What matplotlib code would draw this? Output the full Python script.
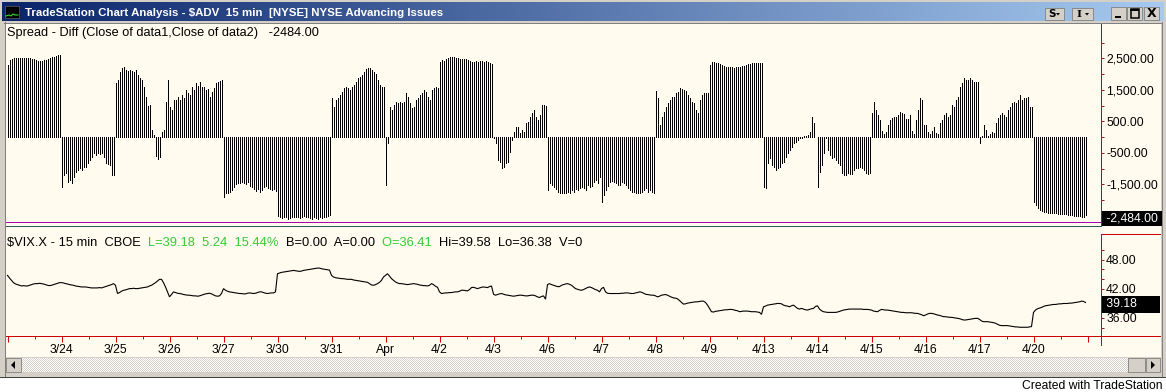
import numpy as np
import matplotlib
matplotlib.use("Agg")
import matplotlib.pyplot as plt
from matplotlib.patches import Rectangle, Polygon
from matplotlib.lines import Line2D
from matplotlib.colors import LinearSegmentedColormap, ListedColormap
from matplotlib.ticker import FixedLocator, FuncFormatter
from matplotlib.transforms import blended_transform_factory, ScaledTranslation

plt.rcParams['font.family'] = ['Liberation Sans', 'DejaVu Sans']

# ---------------- data ----------------
day_labels = ["", "3/24", "3/25", "3/26", "3/27", "3/30", "3/31", "Apr", "4/2", "4/3",
              "4/6", "4/7", "4/8", "4/9", "4/13", "4/14", "4/15", "4/16", "4/17", "4/20"]
bars_per_day = 27

# Spread = Close of data1 ($ADV) - Close of data2, one line per trading day
spread = [
    2287, 2445, 2477, 2498, 2498, 2498, 2498, 2498, 2498, 2509, 2498, 2498, 2488, 2466, 2445, 2424, 2414, 2424, 2435, 2445, 2466, 2509, 2530, 2530, 2572, 2604, 2604,
    -1577, -1206, -1153, -1418, -1365, -1471, -1259, -1100, -1048, -995, -1048, -942, -963, -836, -730, -624, -519, -571, -519, -540, -497, -624, -815, -857, -889, -1206, -1206,
    1705, 1811, 2075, 2181, 2234, 2128, 2107, 2128, 2107, 2075, 2128, 1969, 1864, 1811, 1578, 1282, 985, 1017, 222, 63, -603, -709, -624, 169, 222, 1123, 1811,
    964, 859, 1176, 1176, 1282, 1176, 1335, 1229, 1493, 1388, 1335, 1578, 1493, 1705, 1620, 1758, 1578, 1599, 1493, 1514, 1282, 1441, 1546, 1705, 1758, 1790, 1811,
    -1894, -1788, -1767, -1735, -1682, -1598, -1492, -1450, -1450, -1418, -1450, -1492, -1418, -1555, -1598, -1661, -1704, -1640, -1735, -1682, -1598, -1555, -1630, -1661, -1682, -1661, -1704,
    -2507, -2550, -2582, -2529, -2550, -2593, -2571, -2529, -2550, -2529, -2540, -2561, -2550, -2507, -2529, -2550, -2582, -2593, -2550, -2571, -2614, -2550, -2582, -2529, -2550, -2507, -2476,
    1229, 964, 1176, 1229, 1335, 1441, 1546, 1578, 1546, 1493, 1578, 1652, 1758, 1864, 1917, 1969, 2075, 2149, 2202, 2181, 2128, 2075, 2001, 1811, 1652, 1578, 1578,
    -1524, -201, 964, 859, 1017, 1123, 1070, 1123, 1070, 1123, 1388, 1282, 1070, 911, 964, 1176, 1229, 1335, 1388, 1493, 1440, 1282, 1176, 1493, 1546, 1578, 1546,
    2393, 2445, 2424, 2466, 2498, 2530, 2551, 2530, 2509, 2498, 2488, 2466, 2488, 2466, 2445, 2424, 2393, 2393, 2424, 2393, 2414, 2424, 2393, 2403, 2382, 2340, 2308,
    -30, -201, -730, -783, -995, -942, -836, -783, -465, -95, 169, 328, 328, 116, 222, 169, 434, 487, 645, 753, 859, 647, 540, 700, 1017, 1017, 1000,
    -1682, -1471, -1524, -1598, -1661, -1735, -1767, -1788, -1788, -1767, -1735, -1767, -1682, -1735, -1661, -1682, -1630, -1577, -1630, -1682, -1524, -1598, -1555, -1418, -1365, -1471, -1259,
    -2053, -1841, -1682, -1555, -1418, -1386, -1418, -1471, -1524, -1524, -1418, -1471, -1524, -1630, -1682, -1735, -1735, -1767, -1767, -1788, -1735, -1682, -1630, -1735, -1682, -1735, -1767,
    1472, 1229, 381, 645, 806, 964, 1070, 1176, 1282, 1282, 1388, 1441, 1546, 1514, 1493, 1472, 1335, 1229, 1123, 1070, 859, 753, 1176, 1335, 1388, 1409, 1409,
    2287, 2393, 2393, 2361, 2340, 2319, 2287, 2255, 2234, 2213, 2234, 2213, 2202, 2213, 2234, 2234, 2255, 2255, 2287, 2308, 2319, 2340, 2361, 2361, 2340, 2340, 2340,
    -1577, -1630, -836, -677, -889, -942, -1048, -995, -942, -836, -783, -624, -519, -413, -307, -201, -148, -95, -30, -30, 40, 40, 63, 169, 645, 434, 10,
    -1577, -1100, -889, -519, -30, -413, -571, -677, -624, -730, -836, -889, -1153, -1206, -1206, -1153, -1174, -1174, -1048, -995, -995, -942, -995, -1048, -1153, -1174, -1153,
    750, 1123, 860, 700, 540, 200, 80, 160, 380, 540, 600, 620, 650, 700, 800, 750, 720, 560, 560, 700, 200, 100, 540, 860, 1229, 1176, 380,
    381, 150, 100, 200, 330, 120, 100, 430, 540, 700, 750, 650, 700, 1017, 964, 1176, 1282, 1599, 1705, 1864, 1811, 1811, 1864, 1811, 1758, 1735, 1735,
    -180, 30, 380, 220, 40, 100, 170, 120, 434, 600, 700, 753, 700, 645, 860, 964, 1070, 1123, 1070, 1176, 1335, 1176, 1229, 1229, 1282, 964, 964,
    -2053, -2158, -2264, -2317, -2349, -2370, -2391, -2402, -2402, -2412, -2423, -2423, -2433, -2444, -2444, -2455, -2455, -2465, -2476, -2486, -2497, -2507, -2507, -2518, -2529, -2529, -2484,
]

# $VIX.X 15 min closes, one line per trading day
vix = [
    44.75, 44.20, 43.73, 43.25, 42.98, 42.85, 42.71, 42.57, 42.64, 42.57, 42.57, 42.71, 42.85, 42.98, 43.05, 43.05, 43.12, 43.05, 42.98, 42.85, 42.71, 42.64, 42.71, 42.85, 42.98, 43.12, 43.25,
    43.25, 43.19, 43.05, 42.98, 42.85, 42.78, 42.71, 42.57, 42.51, 42.44, 42.37, 42.37, 42.37, 42.30, 42.24, 42.17, 42.17, 42.17, 42.17, 42.24, 42.17, 42.30, 42.44, 42.57, 42.71, 42.85, 43.05,
    42.71, 41.02, 41.22, 41.49, 41.69, 41.76, 41.90, 42.03, 42.03, 42.10, 42.03, 42.03, 42.10, 42.17, 42.24, 42.30, 42.37, 42.57, 42.71, 42.98, 43.25, 43.59, 43.93, 43.93, 43.25, 42.37, 41.36,
    40.34, 40.82, 41.36, 41.22, 41.08, 41.02, 40.95, 40.82, 40.75, 40.68, 40.68, 40.61, 40.54, 40.54, 40.47, 40.54, 40.68, 40.82, 40.95, 41.02, 41.08, 40.95, 40.75, 40.54, 40.47, 40.54, 41.02,
    42.03, 41.69, 41.49, 41.36, 41.29, 41.22, 41.15, 41.08, 41.02, 41.02, 40.95, 40.95, 41.08, 41.15, 41.08, 41.02, 41.08, 41.22, 41.36, 41.36, 41.22, 41.08, 41.02, 41.08, 41.15, 41.15, 41.36,
    45.08, 45.22, 45.36, 45.42, 45.49, 45.56, 45.63, 45.69, 45.76, 45.69, 45.63, 45.56, 45.63, 45.76, 45.83, 45.90, 45.97, 46.03, 46.10, 46.17, 46.24, 46.24, 46.10, 46.03, 45.97, 45.90, 45.83,
    44.75, 44.41, 44.27, 44.20, 44.14, 44.07, 44.07, 44.00, 43.93, 43.93, 43.93, 43.80, 43.73, 43.66, 43.59, 43.53, 43.46, 43.39, 43.32, 43.05, 42.78, 42.71, 42.85, 43.05, 43.32, 43.73, 44.41,
    44.75, 45.08, 44.61, 44.07, 43.73, 43.39, 43.19, 43.05, 43.05, 42.98, 42.91, 42.85, 42.91, 42.98, 43.05, 42.98, 42.91, 42.78, 42.71, 42.64, 42.64, 42.57, 42.71, 43.05, 42.85, 42.51, 42.30,
    41.36, 41.02, 41.08, 41.15, 41.15, 41.22, 41.22, 41.29, 41.36, 41.36, 41.49, 41.69, 41.69, 41.63, 41.56, 41.83, 42.24, 42.30, 42.17, 42.03, 42.17, 42.30, 42.37, 42.30, 42.24, 42.44, 42.57,
    40.88, 40.68, 40.82, 40.95, 41.02, 40.88, 40.75, 40.68, 40.61, 40.54, 40.47, 40.54, 40.61, 40.68, 40.68, 40.61, 40.54, 40.54, 40.61, 40.68, 40.68, 40.54, 40.34, 40.20, 40.41, 40.54, 39.86,
    42.85, 43.05, 42.85, 42.71, 42.57, 42.44, 42.44, 42.71, 42.85, 42.98, 43.05, 42.91, 42.71, 42.37, 42.03, 41.90, 41.76, 41.69, 41.83, 42.03, 42.24, 42.37, 42.24, 42.03, 41.83, 41.69, 41.36,
    42.03, 42.30, 41.36, 41.08, 41.02, 41.02, 41.02, 41.02, 41.02, 41.02, 41.08, 41.08, 41.15, 41.15, 41.08, 41.02, 41.02, 41.15, 41.22, 41.36, 41.29, 41.08, 40.88, 40.82, 40.75, 40.68, 40.68,
    40.54, 40.34, 40.47, 40.68, 40.75, 40.82, 40.68, 40.47, 40.27, 40.13, 40.07, 39.93, 39.59, 39.19, 38.85, 38.91, 39.05, 39.12, 39.19, 39.25, 39.32, 39.32, 39.39, 39.46, 39.46, 39.19, 38.64,
    37.97, 37.29, 37.22, 37.36, 37.42, 37.49, 37.56, 37.63, 37.69, 37.69, 37.76, 37.76, 37.69, 37.56, 37.49, 37.29, 37.36, 37.42, 37.42, 37.42, 37.36, 37.29, 37.29, 37.29, 37.22, 37.15, 36.75,
    38.30, 38.44, 38.64, 38.71, 38.78, 38.85, 38.91, 38.98, 38.98, 38.91, 38.64, 38.51, 38.44, 38.30, 38.51, 38.64, 38.30, 37.97, 37.83, 37.97, 37.83, 37.69, 37.63, 37.76, 37.90, 37.97, 38.37,
    38.51, 37.83, 37.49, 37.29, 37.22, 37.15, 37.15, 37.15, 37.15, 37.15, 37.22, 37.36, 37.49, 37.63, 37.69, 37.76, 37.83, 37.83, 37.83, 37.83, 37.83, 37.83, 37.83, 37.76, 37.76, 37.76, 37.69,
    37.63, 37.42, 37.36, 37.29, 37.56, 37.76, 37.69, 37.63, 37.63, 37.56, 37.49, 37.42, 37.36, 37.29, 37.22, 37.15, 37.15, 37.08, 37.08, 37.08, 37.08, 37.02, 36.95, 36.95, 36.81, 36.68, 36.47,
    36.61, 36.81, 36.95, 36.95, 36.88, 36.75, 36.61, 36.54, 36.41, 36.27, 36.27, 36.20, 36.14, 36.14, 36.07, 36.00, 35.93, 35.86, 35.73, 35.59, 35.59, 35.66, 35.73, 35.80, 35.86, 35.93, 35.93,
    35.73, 35.39, 35.25, 35.25, 35.25, 35.19, 35.12, 35.05, 34.92, 34.71, 34.51, 34.44, 34.44, 34.44, 34.44, 34.37, 34.31, 34.24, 34.17, 34.17, 34.10, 34.10, 34.10, 34.10, 34.10, 34.17, 34.24,
    37.15, 37.63, 37.90, 38.03, 38.17, 38.37, 38.51, 38.57, 38.64, 38.71, 38.78, 38.78, 38.85, 38.91, 38.91, 38.98, 38.98, 38.98, 39.05, 39.05, 39.12, 39.19, 39.25, 39.32, 39.46, 39.40, 39.18,
]

spread_last = -2484.00
band_level = -2700          # magenta reference line in upper pane
spread_major = [2500, 1500, 500, -500, -1500]
spread_minor = [3000, 2000, 1000, 0, -1000, -2000]
vix_major = [48, 42, 36]
vix_minor = [50, 46, 44, 40, 38, 34]
vix_quote = {"L": 39.18, "chg": 5.24, "pct": 15.44, "B": 0.00, "A": 0.00,
             "O": 36.41, "Hi": 39.58, "Lo": 36.38, "V": 0}

assert len(spread) == bars_per_day * len(day_labels)
assert len(vix) == bars_per_day * len(day_labels)

# ---------------- colours ----------------
CREAM = "#FFFBEF"
RED = "#CC0000"
GREY = "#D4D0C8"
GREEN = "#33CC33"
TEAL = "#2E5A5A"
MAGENTA = "#B000B0"

W, H = 1166, 392
fig = plt.figure(figsize=(W / 100, H / 100), dpi=100)
fig.patch.set_facecolor("white")
PX = 0.72  # one pixel in points


def box(x0, y0, x1, y1, z=5, **kw):
    r = Rectangle((x0 / W, 1 - y1 / H), (x1 - x0) / W, (y1 - y0) / H,
                  transform=fig.transFigure, zorder=z, **kw)
    fig.patches.append(r)
    return r


def hline(x0, x1, y, color, lw=PX, z=6):
    fig.lines.append(Line2D([x0 / W, x1 / W], [1 - y / H, 1 - y / H],
                            transform=fig.transFigure, color=color, lw=lw,
                            antialiased=False, zorder=z))


def vline(x, y0, y1, color, lw=PX, z=6):
    fig.lines.append(Line2D([x / W, x / W], [1 - y0 / H, 1 - y1 / H],
                            transform=fig.transFigure, color=color, lw=lw,
                            antialiased=False, zorder=z))


def tri(pts, z=7):
    fig.patches.append(Polygon([[x / W, 1 - y / H] for x, y in pts], closed=True,
                               transform=fig.transFigure, facecolor="black",
                               edgecolor="none", zorder=z))


def axes_px(x0, y0, x1, y1, z=1):
    a = fig.add_axes([x0 / W, 1 - y1 / H, (x1 - x0) / W, (y1 - y0) / H])
    a.set_zorder(z)
    return a


def text_px(x, y, s, **kw):
    kw.setdefault("zorder", 8)
    return fig.text(x / W, 1 - y / H, s, **kw)


renderer = fig.canvas.get_renderer()


def text_w(s, size, **kw):
    t = fig.text(0, 0, s + "|", fontsize=size, **kw)
    t2 = fig.text(0, 0, "|", fontsize=size, **kw)
    w = t.get_window_extent(renderer).width - t2.get_window_extent(renderer).width
    t.remove()
    t2.remove()
    return w


# ---------------- window frame (background) ----------------
box(0, 0, W, 377, z=-10, facecolor=GREY, edgecolor="none")
box(6, 23, 1161, 357, z=-9, facecolor=CREAM, edgecolor="none")
hline(0, W, 376.5, "#404040")
vline(4.5, 22, 376, "#808080")
vline(1161.5, 22, 376, "#808080")
hline(4, 1162, 22.5, "#808080")

# title bar with gradient
ax_t = axes_px(2, 2, 1164, 21, z=2)
grad = np.linspace(0, 1, 512)[None, :]
ax_t.imshow(grad, aspect="auto", extent=(0, 1, 0, 1),
            cmap=LinearSegmentedColormap.from_list("tb", ["#0A246A", "#A6CAF0"]))
ax_t.axis("off")
box(5, 6, 19, 18, facecolor="black", edgecolor="#606060", lw=0.5)
fig.lines.append(Line2D(np.array([6, 9, 11, 13, 15, 18]) / W,
                        1 - np.array([16, 15, 16, 14, 15, 15]) / H,
                        transform=fig.transFigure, color="#33DD33", lw=0.8, zorder=7))
title = "TradeStation Chart Analysis - $ADV  15 min  [NYSE] NYSE Advancing Issues"
tsize = 9 * 417 / text_w(title, 9, fontweight="bold")
text_px(25, 12.5, title, color="white", fontweight="bold", fontsize=tsize, va="center")

# title buttons
for (bx0, bx1, lab) in [(1045, 1064, "S"), (1072, 1093, "I")]:
    box(bx0, 8, bx1, 20, facecolor=GREY, edgecolor="#808080", lw=0.6)
    text_px(bx0 + 7, 14.3, lab, fontsize=7.5, fontweight="bold", ha="center", va="center",
            family="DejaVu Serif" if lab == "I" else "DejaVu Sans")
    tx = bx1 - 6
    tri([(tx - 2, 13), (tx + 2, 13), (tx, 15.5)])
for bx0 in (1111, 1127, 1144):
    box(bx0, 7, bx0 + 15, 20, facecolor=GREY, edgecolor="#808080", lw=0.6)
box(1115, 16, 1121, 17.5, z=7, facecolor="black", edgecolor="none")
box(1130.5, 9.5, 1138.5, 17.5, z=7, facecolor="none", edgecolor="black", lw=1.1)
hline(1131, 1138, 10, "black", lw=1.4, z=7)
text_px(1151.5, 13.8, "X", fontsize=9, fontweight="bold", ha="center", va="center",
        family="DejaVu Sans")

# ---------------- upper pane: spread bars ----------------
n = len(spread)
idx = np.arange(n)
XMIN = -0.75
XMAX = XMIN + (1101 - 6) / 2.0

ZERO_Y, PX_PER_1000 = 137.0, 31.5
ax1 = axes_px(6, 24, 1101, 225)
ax1.set_facecolor("none")
ax1.set_xlim(XMIN, XMAX)
ax1.set_ylim((ZERO_Y - 225) * 1000 / PX_PER_1000, (ZERO_Y - 24) * 1000 / PX_PER_1000)
ax1.vlines(idx, 0, spread, colors="black", linewidth=PX, antialiased=False)
ax1.axhline(band_level, color=MAGENTA, lw=PX, antialiased=False)
for s in ("top", "bottom", "left"):
    ax1.spines[s].set_visible(False)
ax1.spines["right"].set_color(RED)
ax1.spines["right"].set_linewidth(PX)
ax1.set_xticks([])
ax1.yaxis.tick_right()
ax1.yaxis.set_major_locator(FixedLocator(spread_major))
ax1.yaxis.set_minor_locator(FixedLocator(spread_minor))
ax1.yaxis.set_major_formatter(FuncFormatter(lambda v, p: "{:,.2f}".format(v)))
ax1.tick_params(axis="y", which="both", direction="out", length=3 * PX, width=PX,
                color=RED, labelsize=8.7, pad=1.5)
hdr1 = "Spread - Diff (Close of data1,Close of data2)   {:.2f}".format(spread_last)
hsize = 9 * 313 / text_w(hdr1, 9)
text_px(7, 33, hdr1, fontsize=hsize, va="center")

# last-value box
tr = blended_transform_factory(ax1.transAxes, ax1.transData) + \
    ScaledTranslation(2 / 100, -3 / 100, fig.dpi_scale_trans)
ax1.text(1.0, spread_last, " {:,.2f} ".format(spread_last), transform=tr, color="white",
         fontsize=8.7, va="center", ha="left", clip_on=False, zorder=10,
         bbox=dict(boxstyle="square,pad=0.12", facecolor="black", edgecolor="none"))

hline(6, 1101, 225.5, TEAL)

# ---------------- lower pane: VIX ----------------
V48_Y, VPX = 259.5, 4.875
ax2 = axes_px(6, 226, 1101, 336)
ax2.set_facecolor("none")
ax2.set_xlim(XMIN, XMAX)
ax2.set_ylim(48 - (336 - V48_Y) / VPX, 48 + (V48_Y - 226) / VPX)
ax2.plot(idx, vix, color="black", lw=0.8, antialiased=True, solid_joinstyle="miter")
for s in ("top", "left", "right"):
    ax2.spines[s].set_visible(False)
ax2.spines["bottom"].set_color(RED)
ax2.spines["bottom"].set_linewidth(PX)
ax2.yaxis.tick_right()
ax2.yaxis.set_major_locator(FixedLocator(vix_major))
ax2.yaxis.set_minor_locator(FixedLocator(vix_minor))
ax2.yaxis.set_major_formatter(FuncFormatter(lambda v, p: "{:.2f}".format(v)))
ax2.tick_params(axis="y", which="both", direction="out", length=3 * PX, width=PX,
                color=RED, labelsize=8.7, pad=1.5)
nd = len(day_labels)
ax2.xaxis.set_major_locator(FixedLocator([bars_per_day * d for d in range(nd + 1)]))
ax2.xaxis.set_minor_locator(FixedLocator([bars_per_day * d + bars_per_day / 2 for d in range(nd)]))
ax2.xaxis.set_major_formatter(FuncFormatter(
    lambda v, p: day_labels[int(round(v / bars_per_day))] if int(round(v / bars_per_day)) < nd else ""))
ax2.tick_params(axis="x", which="major", direction="out", length=6 * PX, width=PX,
                color=RED, labelsize=8.7, pad=1.5)
ax2.tick_params(axis="x", which="minor", direction="out", length=3 * PX, width=PX, color=RED)

q = vix_quote
pieces = [("$VIX.X - 15 min  CBOE  ", "black"),
          ("L={:.2f}  {:.2f}  {:.2f}%  ".format(q["L"], q["chg"], q["pct"]), GREEN),
          ("B={:.2f}  A={:.2f}  ".format(q["B"], q["A"]), "black"),
          ("O={:.2f}  ".format(q["O"]), GREEN),
          ("Hi={:.2f}  Lo={:.2f}  V={}".format(q["Hi"], q["Lo"], q["V"]), "black")]
full = "".join(p for p, c in pieces)
vsize = 9 * 575 / text_w(full, 9)
done = ""
for s, c in pieces:
    text_px(7 + text_w(done, vsize) if done else 7, 243, s, color=c, fontsize=vsize, va="center")
    done += s

tr2 = blended_transform_factory(ax2.transAxes, ax2.transData) + \
    ScaledTranslation(2 / 100, -2 / 100, fig.dpi_scale_trans)
ax2.text(1.0, vix[-1], " {:.2f}      ".format(vix[-1]), transform=tr2, color="white",
         fontsize=8.7, va="center", ha="left", clip_on=False, zorder=10,
         bbox=dict(boxstyle="square,pad=0.2", facecolor="black", edgecolor="none"))

# right price-axis lines of lower pane
vline(1101, 234, 345, RED)
hline(1101, 1160, 234, RED)
hline(1101, 1160, 336, RED)

# ---------------- scrollbar ----------------
ax_sb = axes_px(21, 358, 1128, 372, z=2)
chk = np.add.outer(np.arange(14), np.arange(1107)) % 2
ax_sb.imshow(chk, cmap=ListedColormap(["#FFFFFF", GREY]), interpolation="nearest", aspect="auto")
ax_sb.axis("off")
box(6, 358, 21, 372, facecolor=GREY, edgecolor="#808080", lw=0.6)
tri([(11, 365), (15, 361), (15, 369)])
box(1128, 358, 1145, 372, facecolor=GREY, edgecolor="#808080", lw=0.6)
box(1146, 358, 1160, 372, facecolor=GREY, edgecolor="#808080", lw=0.6)
tri([(1155, 365), (1151, 361), (1151, 369)])

text_px(1162, 386, "Created with TradeStation", fontsize=8.7, ha="right", va="center")

fig.savefig("out.png", dpi=100, facecolor="white")
